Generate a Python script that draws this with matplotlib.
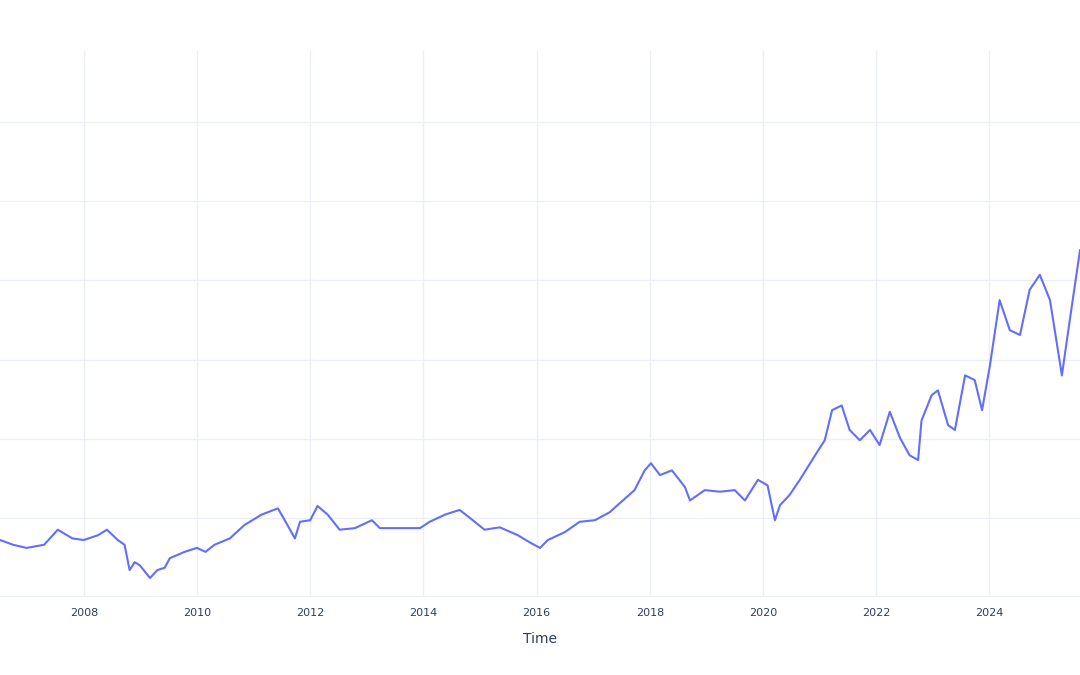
import matplotlib
matplotlib.use("Agg")
import matplotlib.pyplot as plt

years = [2006.52,2006.75,2006.99,2007.3,2007.54,2007.8,2008.0,2008.25,2008.41,2008.6,2008.72,2008.81,2008.9,2008.99,2009.17,2009.3,2009.43,2009.52,2009.78,2010.0,
         2010.15,2010.31,2010.58,2010.84,2011.14,2011.43,2011.55,2011.73,2011.82,2012.0,2012.13,2012.31,2012.52,2012.79,2013.09,2013.23,2013.58,2013.94,2014.11,2014.38,
         2014.64,2014.82,2015.08,2015.35,2015.67,2015.88,2016.06,2016.2,2016.5,2016.76,2017.03,2017.29,2017.43,2017.73,2017.91,2018.02,2018.18,2018.39,2018.62,2018.71,
         2018.97,2019.24,2019.5,2019.68,2019.91,2020.08,2020.21,2020.3,2020.47,2020.65,2020.92,2021.09,2021.22,2021.39,2021.53,2021.71,2021.89,2022.06,2022.24,2022.42,
         2022.59,2022.74,2022.8,2022.98,2023.09,2023.27,2023.39,2023.57,2023.74,2023.87,2024.01,2024.18,2024.36,2024.54,2024.71,2024.89,2025.07,2025.28,2025.42,2025.6]
values = [0.72,0.66,0.62,0.66,0.85,0.74,0.72,0.78,0.85,0.72,0.66,0.34,0.44,0.40,0.24,0.34,0.37,0.49,0.57,0.62,
          0.57,0.66,0.74,0.91,1.04,1.12,0.97,0.74,0.95,0.97,1.15,1.04,0.85,0.87,0.97,0.87,0.87,0.87,0.95,1.04,
          1.10,1.00,0.85,0.88,0.78,0.69,0.62,0.72,0.82,0.95,0.97,1.07,1.16,1.35,1.60,1.69,1.54,1.60,1.39,1.22,
          1.35,1.33,1.35,1.22,1.48,1.41,0.97,1.16,1.29,1.48,1.79,1.98,2.36,2.42,2.11,1.98,2.11,1.92,2.34,2.01,
          1.79,1.73,2.23,2.55,2.61,2.17,2.11,2.80,2.74,2.36,2.93,3.75,3.37,3.31,3.88,4.07,3.75,2.80,3.50,4.38]
xticks = [2008,2010,2012,2014,2016,2018,2020,2022,2024]

fig = plt.figure(figsize=(10.8,6.75), dpi=100)
ax = fig.add_axes([0,1-597/675,1,(597-50)/675])
ax.plot(years, values, color="#636efa", lw=1.5)
ax.set_xlim(2006.52,2025.6)
ax.set_ylim(0,6.91)
ax.set_xticks(xticks)
ax.set_xticklabels([str(t) for t in xticks], fontsize=8, color="#2a3f5f")
ax.set_yticks([1,2,3,4,5,6])
ax.set_yticklabels([])
ax.tick_params(length=0, pad=8)
ax.grid(color="#ebf0f8", lw=1)
for s in ax.spines.values(): s.set_visible(False)
ax.axhline(0, color="#ebf0f8", lw=1.5)
ax.set_xlabel("Time", fontsize=10, color="#2a3f5f", labelpad=10)
ax.set_axisbelow(True)
fig.savefig("out.png", dpi=100)
